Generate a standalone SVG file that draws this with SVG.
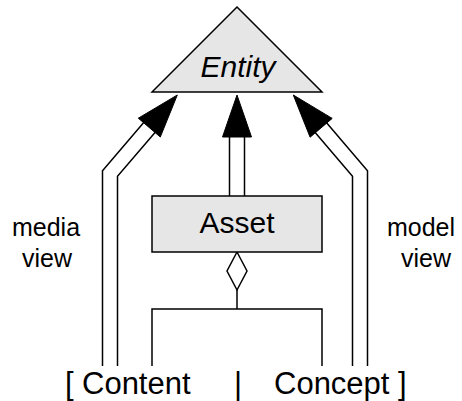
<svg xmlns="http://www.w3.org/2000/svg" width="462" height="401" viewBox="0 0 462 401">
  <style>
    .shape { fill: #e6e6e6; stroke: #000; stroke-width: 1.5; }
    .line { fill: none; stroke: #000; stroke-width: 1.5; stroke-linejoin: miter; }
    .head { fill: #000; stroke: #000; stroke-width: 1; stroke-linejoin: miter; }
    .txt { font-family: "Liberation Sans", Arial, sans-serif; fill: #000; }
    .name { font-size: 30px; text-anchor: middle; }
    .label { font-size: 25px; text-anchor: middle; }
    .bottom { font-size: 31px; }
  </style>
  <rect width="462" height="401" fill="#fff"/>

  <!-- connectors: double-lined generalisation arrows and aggregation tree -->
  <g id="connectors">
    <!-- media view (left) -->
    <polyline class="line" points="102.5,366 102.5,170.7 145,121"/>
    <polyline class="line" points="117.5,366 117.5,176.3 156.3,131"/>
    <polygon class="head" points="177.3,95 138.3,118.2 160.3,137"/>
    <!-- Asset to Entity (centre) -->
    <line class="line" x1="229.5" y1="196" x2="229.5" y2="135"/>
    <line class="line" x1="244.5" y1="196" x2="244.5" y2="135"/>
    <polygon class="head" points="237,95 222.5,137 251.5,137"/>
    <!-- model view (right) -->
    <polyline class="line" points="367.5,366 367.5,170.8 325.5,121.4"/>
    <polyline class="line" points="352.5,366 352.5,176.2 314.1,131.2"/>
    <polygon class="head" points="293.3,95 332.2,118.4 310.1,137.2"/>
    <!-- aggregation from Asset to Content / Concept -->
    <polygon points="237,252 247,271 237,290 227,271" fill="#fff" stroke="#000" stroke-width="1.5"/>
    <line class="line" x1="237" y1="290" x2="237" y2="309"/>
    <polyline class="line" points="152,366 152,309 322,309 322,366"/>
  </g>

  <g id="entity">
    <polygon class="shape" points="152,92 237,7 322,92"/>
    <text class="txt name" x="238" y="77" font-style="italic" font-size="29px">Entity</text>
  </g>

  <g id="asset">
    <rect class="shape" x="152" y="196" width="170" height="56"/>
    <text class="txt name" x="237" y="233">Asset</text>
  </g>

  <g id="media-view">
    <text class="txt label" x="46" y="236">media</text>
    <text class="txt label" x="47" y="267">view</text>
  </g>

  <g id="model-view">
    <text class="txt label" x="421" y="236">model</text>
    <text class="txt label" x="426" y="267">view</text>
  </g>

  <g id="content-concept">
    <text class="txt bottom" x="65" y="394">[</text>
    <text class="txt bottom" x="82" y="394">Content</text>
    <text class="txt bottom" x="238" y="394" text-anchor="middle">|</text>
    <text class="txt bottom" x="274" y="394">Concept</text>
    <text class="txt bottom" x="398" y="394">]</text>
  </g>
</svg>
